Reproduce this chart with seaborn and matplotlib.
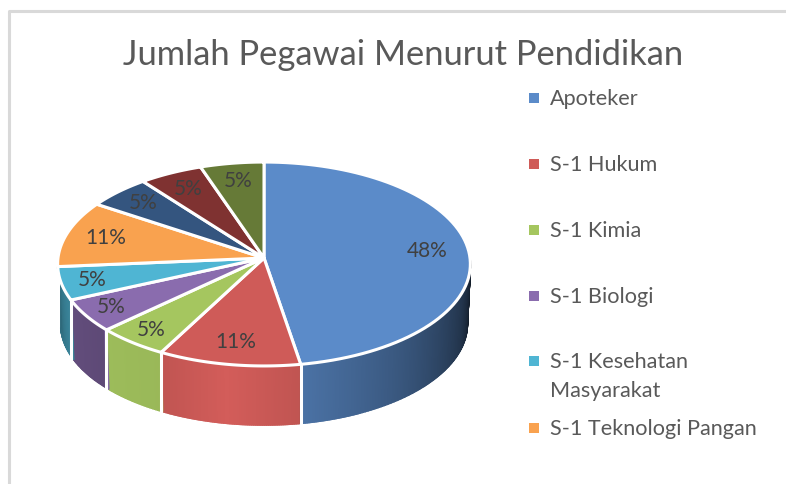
import numpy as np
import matplotlib
matplotlib.use("Agg")
import matplotlib.pyplot as plt
from matplotlib.patches import Polygon
import seaborn as sns

# Data
title = "Jumlah Pegawai Menurut Pendidikan"
legend_names = ["Apoteker", "S-1 Hukum", "S-1 Kimia", "S-1 Biologi",
                "S-1 Kesehatan\nMasyarakat", "S-1 Teknologi Pangan"]
shares = [47.6, 10.6, 5.3, 5.3, 5.3, 10.6, 5.3, 5.3, 5.3]
colors = ["#5b8bc9", "#cf5b58", "#a5c65f", "#8a6cae", "#4fb5d3",
          "#f9a24f", "#34557f", "#7f3231", "#667a37"]
# how far out each label sits
label_r = [0.8, 0.8, 0.86, 0.86, 0.85, 0.8, 0.82, 0.8, 0.8]

sns.set_theme(style="white")
plt.rcParams['font.family'] = ['Lato', 'DejaVu Sans']

fig, ax = plt.subplots(figsize=(7.86, 4.84), dpi=100)
fig.subplots_adjust(0, 0, 1, 1)
ax.set_xlim(0, 786)
ax.set_ylim(484, 0)
ax.axis("off")

# frame of the screenshot
ax.plot([9, 9, 786], [484, 11, 11], color="#d9d9d9", lw=2.2)


# circle -> screen, far side slightly smaller
def project(theta, r=1.0, cy=258, a=206, b=101.6, p=0.0588):
    x = r * np.sin(theta)
    y = r * np.cos(theta)
    w = 1 + p * y
    return 264 + a * x / w, cy - b * y / w


def shade(deg):
    return np.interp(deg, [90, 110, 140, 170, 171, 190, 208, 209, 228, 229, 250, 265],
                     [0.13, 0.38, 0.62, 0.82, 0.93, 1.02, 0.93, 0.93, 0.95, 0.68, 0.72, 0.58])


edges = np.cumsum([0] + shares) / np.sum(shares) * 2 * np.pi

# side wall, thin strips for the shading
for i, color in enumerate(colors):
    start, end = edges[i], edges[i + 1]
    if (start + end) / 2 > 1.5 * np.pi:
        continue
    start = max(start, np.pi / 2)
    steps = np.linspace(start, end, int(np.degrees(end - start) * 2) + 2)
    base = np.array(matplotlib.colors.to_rgb(color))
    for t0, t1 in zip(steps[:-1], steps[1:]):
        t = np.array([t0, t1])
        xt, yt = project(t)
        xb, yb = project(t[::-1], cy=318, a=203, b=100.7)
        c = np.clip(base * shade(np.degrees((t0 + t1) / 2)), 0, 1)
        ax.add_patch(Polygon(np.column_stack([np.r_[xt, xb], np.r_[yt, yb]]),
                             fc=c, ec=c, lw=1.2, zorder=2))
    if end < 1.5 * np.pi:
        xe, ye = project(end)
        ax.plot([xe, xe], [ye, ye + 60], color="white", lw=2.2, zorder=3)

# top face
for i, color in enumerate(colors):
    t = np.linspace(edges[i], edges[i + 1], 80)
    xs, ys = project(t)
    pts = np.column_stack([np.r_[264, xs], np.r_[258, ys]])
    ax.add_patch(Polygon(pts, fc=color, ec="white", lw=2.2, joinstyle="round", zorder=4))

# data labels
for i, share in enumerate(shares):
    lx, ly = project((edges[i] + edges[i + 1]) / 2, r=label_r[i])
    ax.text(lx, ly, f"{share:.0f}%", ha="center", va="center",
            fontsize=15, color="#404040", zorder=5)

ax.text(403, 55, title, ha="center", va="center", fontsize=24.8, color="#595959")

# legend
legend_y = [98, 164, 230, 296, 361, 428]
sns.scatterplot(x=[534] * len(legend_y), y=legend_y, hue=legend_names,
                palette=colors[:len(legend_names)], marker="s", s=62,
                linewidth=0, legend=False, ax=ax, zorder=5, clip_on=False)
for name, y in zip(legend_names, legend_y):
    ax.text(550, y - 9, name, ha="left", va="top", fontsize=15.6,
            color="#595959", linespacing=1.55)

fig.savefig("out.png", dpi=100)
